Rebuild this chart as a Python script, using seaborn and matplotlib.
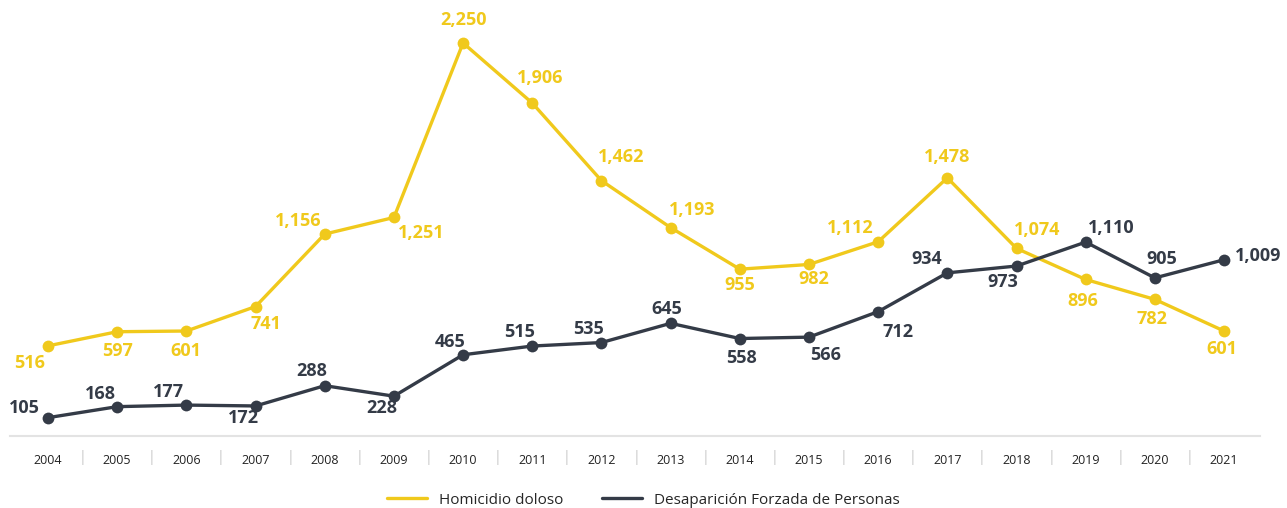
import matplotlib.pyplot as plt
import matplotlib.transforms as mtransforms
import pandas as pd
import seaborn as sns

years = list(range(2004, 2022))
homicidio = [516, 597, 601, 741, 1156, 1251, 2250, 1906, 1462, 1193, 955, 982, 1112, 1478, 1074, 896, 782, 601]
desaparicion = [105, 168, 177, 172, 288, 228, 465, 515, 535, 645, 558, 566, 712, 934, 973, 1110, 905, 1009]
series_names = ["Homicidio doloso", "Desaparición Forzada de Personas"]

# label offsets in pixels (dx, dy), dy positive = up
offsets_hom = [(-18, -17), (0, -19), (0, -20), (10, -17), (-26, 13), (27, -16), (0, 23), (8, 25), (20, 24),
               (22, 18), (0, -16), (5, -15), (-28, 14), (0, 21), (21, 18), (-3, -22), (-3, -20), (-2, -18)]
offsets_des = [(-24, 10), (-17, 13), (-18, 13), (-12, -12), (-13, 15), (-12, -12), (-13, 13), (-13, 14), (-13, 14),
               (-4, 14), (2, -19), (17, -18), (20, -20), (-21, 14), (-14, -16), (26, 14), (7, 19), (34, 4)]

YELLOW = "#F0C91C"
DARK = "#343B47"

df = pd.DataFrame({
    "idx": list(range(len(years))) * 2,
    "valor": homicidio + desaparicion,
    "serie": [series_names[0]] * len(years) + [series_names[1]] * len(years),
})

sns.set_style("white")
plt.rcParams['font.family'] = ['Open Sans', 'DejaVu Sans']

fig = plt.figure(figsize=(12.87, 5.08), dpi=100)
ax = fig.add_axes([10 / 1287, 1 - 436 / 508, 1250 / 1287, 436 / 508])

sns.lineplot(data=df, x="idx", y="valor", hue="serie", palette=[YELLOW, DARK], marker="o",
             markersize=8.5, markeredgewidth=0, linewidth=2.4, ax=ax, legend=True)

for vals, offs, col in [(homicidio, offsets_hom, YELLOW), (desaparicion, offsets_des, DARK)]:
    for i, (v, (dx, dy)) in enumerate(zip(vals, offs)):
        ax.annotate(f"{v:,}", (i, v), xytext=(dx, dy), textcoords="offset pixels",
                    ha="center", va="center", fontsize=13, fontweight="bold", color=col)

ax.set_xlim((10 - 48) / 69.18, (1260 - 48) / 69.18)
ax.set_ylim(0, 2496)
ax.set_xticks(range(len(years)))
ax.set_xticklabels([str(y) for y in years], fontsize=9, color="#222222")
ax.tick_params(axis="x", length=0, pad=13)
ax.set_yticks([])
ax.set_xlabel("")
ax.set_ylabel("")
for s in ["top", "right", "left"]:
    ax.spines[s].set_visible(False)
ax.spines["bottom"].set_color("#E3E3E3")
ax.spines["bottom"].set_linewidth(1.5)

trans = mtransforms.blended_transform_factory(ax.transData, ax.transAxes)
for i in range(len(years) - 1):
    ax.text(i + 0.5, -0.05, "|", transform=trans, ha="center", va="center",
            fontsize=10, color="#C8C8C8")

handles, labels = ax.get_legend_handles_labels()
ax.get_legend().remove()
leg = fig.legend(handles, labels, loc="center", bbox_to_anchor=(0.5, 1 - 500 / 508), ncol=2,
                 frameon=False, fontsize=11, handlelength=2.6, columnspacing=2.5)
for h in leg.legend_handles:
    h.set_marker("")
    h.set_linewidth(2.4)

fig.savefig("out.png", dpi=100)
